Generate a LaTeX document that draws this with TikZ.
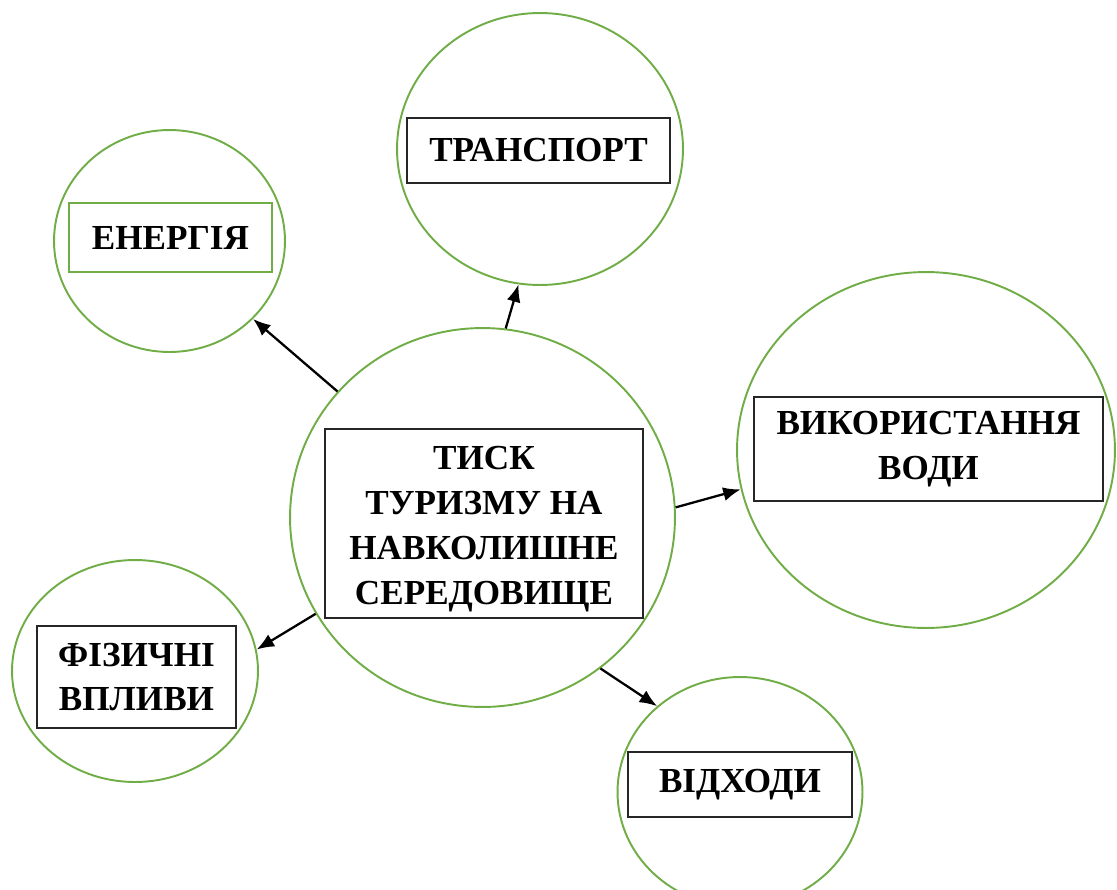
\documentclass[tikz,border=0pt]{standalone}
\usepackage{fontspec}
\setmainfont{Liberation Serif}
\usepackage{xcolor}
\usepackage{tikz}
\usetikzlibrary{arrows.meta, shapes.geometric}

\definecolor{leafgreen}{HTML}{70AD47}

\begin{document}
\begin{tikzpicture}[
    x=0.02cm, y=-0.02cm,
    bubble/.style={
        ellipse,
        draw=leafgreen,
        line width=1.1pt,
        inner sep=0pt
    },
    label box/.style={
        rectangle,
        draw=black!85,
        line width=1pt,
        align=center,
        inner sep=0pt,
        font=\fontsize{20}{25.5}\selectfont\bfseries
    },
    label text/.style={
        align=center,
        inner sep=0pt,
        font=\fontsize{20}{25.5}\selectfont\bfseries
    },
    arrow/.style={-{Latex[length=3.5mm, width=2.8mm]}, line width=1.3pt}
]
\useasboundingbox (0,0) rectangle (1117,890);

% circles
\node[bubble, minimum width=7.7cm, minimum height=7.58cm] (centre) at (482.5,517.5) {};
\node[bubble, minimum width=4.62cm, minimum height=4.44cm] (energy) at (169.5,241) {};
\node[bubble, minimum width=5.72cm, minimum height=5.44cm] (transport) at (540,149) {};
\node[bubble, minimum width=7.56cm, minimum height=7.12cm] (water) at (926,450) {};
\node[bubble, minimum width=4.92cm, minimum height=4.44cm] (physical) at (135,671) {};
\node[bubble, minimum width=4.9cm, minimum height=4.6cm] (waste) at (740,792) {};

% boxes
\node[label box, minimum width=6.36cm, minimum height=3.78cm] (centrebox) at (484,523.5) {};
\node[label text] (centretext) at (484,529) {
    ТИСК\\
    ТУРИЗМУ НА\\
    НАВКОЛИШНЕ\\
    СЕРЕДОВИЩЕ
};
\node[label box, draw=leafgreen, minimum width=4.06cm, minimum height=1.38cm] (energybox) at (170.5,237.5) {ЕНЕРГІЯ};
\node[label box, minimum width=5.26cm, minimum height=1.3cm] (transportbox) at (538.5,150.5) {ТРАНСПОРТ};
\node[label box, minimum width=6.98cm, minimum height=2.08cm] (waterbox) at (928.5,449) {
    ВИКОРИСТАННЯ\\
    ВОДИ
};
\node[label box, minimum width=3.98cm, minimum height=2.04cm] (physicalbox) at (136.5,677) {
    ФІЗИЧНІ\\
    ВПЛИВИ
};
\node[label box, minimum width=4.48cm, minimum height=1.3cm] (wastebox) at (740,784.5) {ВІДХОДИ};

\draw[arrow] (centre.139.6) -- (energy.-43.8);
\draw[arrow] (centre.83.8) -- (transport.261.8);
\draw[arrow] (centre.3.7) -- (water.192.3);
\draw[arrow] (centre.210.9) -- (physical.10.8);
\draw[arrow] (centre.-52.9) -- (waste.134);

\end{tikzpicture}
\end{document}
